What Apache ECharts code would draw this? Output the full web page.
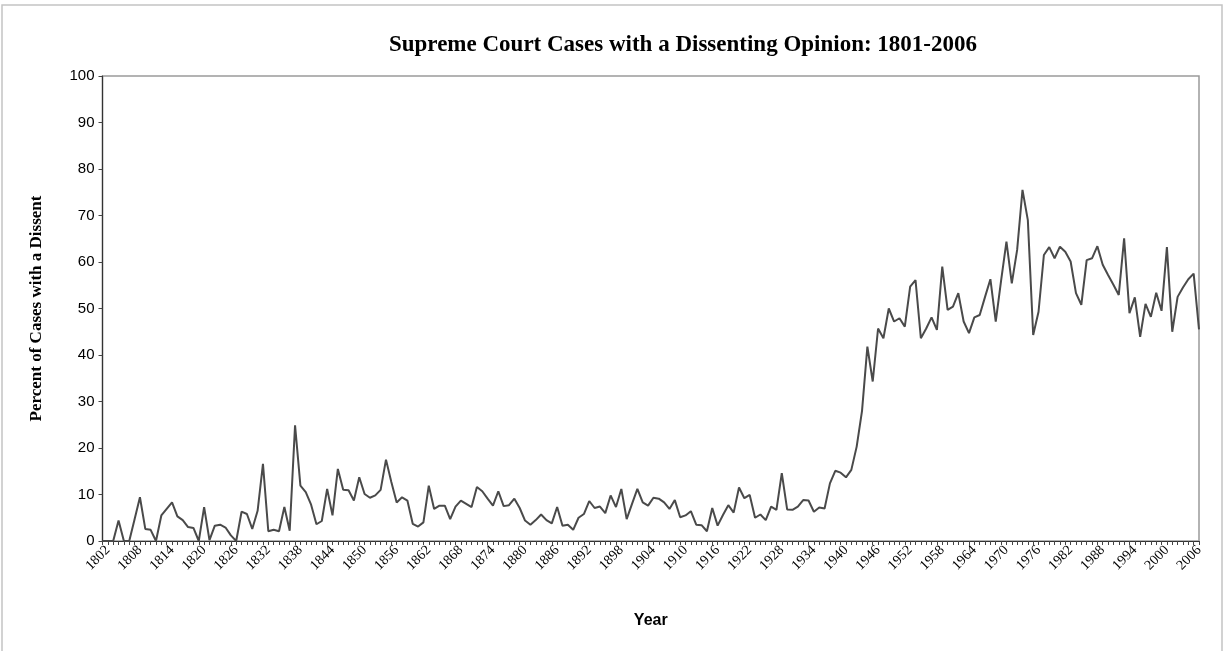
<!DOCTYPE html>
<html>
<head>
<meta charset="utf-8">
<title>Supreme Court Cases with a Dissenting Opinion</title>
<script src="https://cdn.jsdelivr.net/npm/echarts@6/dist/echarts.min.js"></script>
<style>
  html, body { margin: 0; padding: 0; background: #fff; }
  #chart { width: 1225px; height: 651px; }
</style>
</head>
<body>
<div id="chart"></div>
<script>
// years on the category axis
const firstYear = 1801
const lastYear = 2006
const years = []
for (let y = firstYear; y <= lastYear; y++) years.push(String(y))

// labelled years (every sixth)
const labelYears = ['1802', '1808', '1814', '1820', '1826', '1832', '1838', '1844', '1850', '1856',
  '1862', '1868', '1874', '1880', '1886', '1892', '1898', '1904', '1910', '1916',
  '1922', '1928', '1934', '1940', '1946', '1952', '1958', '1964', '1970', '1976',
  '1982', '1988', '1994', '2000', '2006']

const yTicks = [0, 10, 20, 30, 40, 50, 60, 70, 80, 90, 100]

// percent of cases with a dissent, 1801 .. 2006
const dissentPct = [
  0, 0, 0, 4.4, 0, 0, 4.7, 9.4, 2.6, 2.4,            // 1801-1810
  0, 5.5, 6.9, 8.3, 5.3, 4.5, 3.0, 2.8, 0, 7.3,      // 1811-1820
  0.2, 3.3, 3.5, 2.9, 1.2, 0, 6.3, 5.8, 2.6, 6.5,    // 1821-1830
  16.6, 2.1, 2.4, 2.1, 7.3, 2.2, 24.9, 11.9, 10.5, 7.8,
  3.6, 4.3, 11.2, 5.5, 15.5, 11.0, 10.9, 8.7, 13.7, 10.1,
  9.3, 9.8, 11.0, 17.5, 12.7, 8.3, 9.4, 8.7, 3.7, 3.1,
  4.0, 11.9, 6.9, 7.6, 7.6, 4.7, 7.4, 8.7, 8.0, 7.3,
  11.6, 10.7, 9.1, 7.6, 10.7, 7.5, 7.7, 9.1, 7.1, 4.4,
  3.5, 4.5, 5.7, 4.5, 3.8, 7.3, 3.3, 3.5, 2.4, 5.0,
  5.8, 8.6, 7.1, 7.4, 6.0, 9.8, 7.3, 11.2, 4.7, 8.0,
  11.2, 8.3, 7.6, 9.3, 9.1, 8.3, 6.9, 8.8, 5.1, 5.5,
  6.4, 3.5, 3.4, 2.1, 7.1, 3.3, 5.6, 7.7, 6.1, 11.5,
  9.2, 9.9, 5.0, 5.7, 4.5, 7.4, 6.7, 14.6, 6.8, 6.7,
  7.4, 8.8, 8.7, 6.3, 7.2, 7.0, 12.4, 15.1, 14.7, 13.7,
  15.3, 20.3, 28.0, 41.8, 34.3, 45.7, 43.6, 50.0, 47.2, 47.9,
  46.1, 54.7, 56.1, 43.6, 45.7, 48.1, 45.4, 59.0, 49.7, 50.4,
  53.3, 47.2, 44.7, 48.1, 48.6, 52.5, 56.3, 47.2, 56.0, 64.4,
  55.4, 62.6, 75.5, 69.0, 44.3, 49.3, 61.5, 63.2, 60.8, 63.3,
  62.2, 60.1, 53.3, 50.8, 60.4, 60.8, 63.4, 59.4, 57.2, 55.1,
  52.9, 65.1, 49.0, 52.4, 43.9, 51.0, 48.2, 53.4, 49.5, 63.2,
  45.0, 52.5, 54.5, 56.3, 57.5, 45.5                 // 2001-2006
]

let myChart = echarts.init(document.getElementById('chart'))
myChart.setOption({
  animation: false,
  graphic: [{
    type: 'rect',
    shape: { x: 2, y: 5, width: 1220, height: 700 },
    style: { fill: 'none', stroke: '#c4c4c4', lineWidth: 1.5 },
    silent: true
  }],
  title: {
    text: 'Supreme Court Cases with a Dissenting Opinion: 1801-2006',
    left: 678,
    top: 29,
    textAlign: 'center',
    textStyle: {
      fontFamily: 'Liberation Serif',
      fontWeight: 'bold',
      fontSize: 23,
      color: '#000'
    }
  },
  grid: {
    left: 102.5,
    right: 26,
    top: 76,
    bottom: 110,
    show: true,
    borderColor: '#9a9a9a',
    borderWidth: 1.5,
    containLabel: false
  },
  xAxis: {
    type: 'category',
    data: years,
    boundaryGap: false,
    name: 'Year',
    nameLocation: 'middle',
    nameGap: 72,
    nameTextStyle: {
      fontFamily: 'Liberation Sans',
      fontWeight: 'bold',
      fontSize: 16,
      color: '#000'
    },
    axisLine: { lineStyle: { color: '#333', width: 1.2 } },
    axisTick: {
      interval: 0,
      length: 4,
      lineStyle: { color: '#444' }
    },
    axisLabel: {
      interval: function (index, value) {
        return labelYears.indexOf(value) >= 0
      },
      rotate: 45,
      margin: 7,
      fontFamily: 'Liberation Serif',
      fontSize: 14,
      color: '#000'
    },
    splitLine: { show: false }
  },
  yAxis: {
    type: 'value',
    min: yTicks[0],
    max: yTicks[yTicks.length - 1],
    interval: 10,
    name: 'Percent of Cases with a Dissent',
    nameLocation: 'middle',
    nameRotate: 90,
    nameGap: 57,
    nameTextStyle: {
      fontFamily: 'Liberation Serif',
      fontWeight: 'bold',
      fontSize: 17,
      color: '#000'
    },
    axisLine: { show: true, lineStyle: { color: '#333', width: 1.2 } },
    axisTick: { show: true, length: 4, lineStyle: { color: '#444' } },
    axisLabel: {
      margin: 8,
      fontFamily: 'Liberation Sans',
      fontSize: 15,
      color: '#000'
    },
    splitLine: { show: false }
  },
  series: [{
    type: 'line',
    data: dissentPct,
    showSymbol: false,
    smooth: false,
    lineStyle: { color: '#4a4a4a', width: 2 }
  }]
})
</script>
</body>
</html>
